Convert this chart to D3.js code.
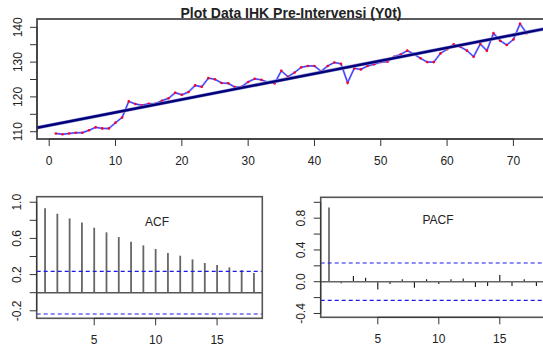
<!DOCTYPE html>
<html><head><meta charset="utf-8">
<script src="https://cdn.jsdelivr.net/npm/d3@7"></script>
<style>
html,body{margin:0;padding:0;background:#fff;overflow:hidden}
svg{display:block}
text{font-family:"Liberation Sans",Arial,sans-serif;fill:#222}
</style></head><body>
<svg id="c" width="543" height="349"></svg>
<script>
// ---- data ----
const titleText = "Plot Data IHK Pre-Intervensi (Y0t)";
const ihk = [109.5,109.25,109.5,109.7,109.7,110.4,111.25,110.95,110.95,112.6,
  114.1,118.7,117.95,117.6,118.05,118.05,118.9,119.6,121.2,120.6,
  121.4,123.3,122.9,125.4,125.05,124.0,123.9,122.8,122.9,124.3,
  125.2,124.9,124.2,123.9,127.5,125.8,127.0,128.5,128.9,128.9,
  127.35,128.9,129.9,129.5,124.1,128.2,127.9,128.9,129.4,130.0,
  130.1,131.55,132.2,133.3,132.3,131.1,130.0,130.0,132.5,133.7,
  135.1,134.4,133.3,131.55,135.2,133.3,138.3,136.15,134.9,136.5,
  141.0,138.3];
const trendIntercept = 111.83;
const trendSlope = 0.3714;
const acfVals = [0.932,0.873,0.821,0.777,0.718,0.667,0.615,0.564,0.523,0.483,
  0.438,0.409,0.368,0.328,0.306,0.280,0.250,0.217];
const pacfVals = [0.936,-0.02,0.071,0.05,-0.097,-0.03,0.03,-0.076,0.03,-0.03,
  0.03,0.042,-0.067,-0.055,0.084,-0.055,0.03,-0.055];
const confLimit = 0.2357;
const topXTicks = [0,10,20,30,40,50,60,70];
const topYTicks = [110,115,120,125,130,135,140];
const topYLabels = [110,120,130,140];
const lagTicks = [5,10,15];
const acfYTicks = [-0.2,0,0.2,0.4,0.6,0.8,1.0];
const acfYLabels = [-0.2,0.2,0.6,1.0];
const pacfYTicks = [-0.4,-0.2,0,0.2,0.4,0.6,0.8,1.0];
const pacfYLabels = [-0.4,0,0.4,0.8];

const svg = d3.select("#c");
const TICK = 7;
const fmt1 = d => d.toFixed(1);

function frame(g, x, y, xt, yt, ylab, xfmt, yfmt) {
  const [x0,x1] = x.range(), [y0,y1] = y.range(); // y0 bottom
  // x ticks
  const bx = g.append("g");
  bx.selectAll("line").data(xt).join("line")
    .attr("x1", d=>x(d)).attr("x2", d=>x(d)).attr("y1", y0).attr("y2", y0+TICK)
    .attr("stroke","#333").attr("stroke-width",1);
  bx.append("line").attr("x1",x(xt[0])).attr("x2",x(xt[xt.length-1])).attr("y1",y0).attr("y2",y0).attr("stroke","#333");
  bx.selectAll("text").data(xt).join("text")
    .attr("x", d=>x(d)).attr("y", y0+25.5).attr("text-anchor","middle")
    .attr("font-size","12px").text(xfmt);
  // y ticks
  const by = g.append("g");
  by.selectAll("line").data(yt).join("line")
    .attr("x1", x0).attr("x2", x0-TICK).attr("y1", d=>y(d)).attr("y2", d=>y(d))
    .attr("stroke","#333").attr("stroke-width",1);
  by.append("line").attr("x1",x0).attr("x2",x0).attr("y1",y(yt[0])).attr("y2",y(yt[yt.length-1])).attr("stroke","#333");
  by.selectAll("text").data(ylab).join("text")
    .attr("transform", d=>`translate(${x0-15.5},${y(d)}) rotate(-90)`)
    .attr("text-anchor","middle").attr("font-size","12px").text(yfmt);
}
function box(g, x, y, col) {
  const [x0,x1] = x.range(), [y0,y1] = y.range();
  g.append("rect").attr("x",x0).attr("y",y1).attr("width",x1-x0).attr("height",y0-y1)
    .attr("fill","none").attr("stroke",col||"#444").attr("stroke-width",1.6);
}

// ---- top panel ----
const xT = d3.scaleLinear().domain([-1.84,74.84]).range([37,545.5]);
const yT = d3.scaleLinear().domain([107.9,142.39]).range([139,19]);
const gT = svg.append("g");
const pts = ihk.map((v,i)=>[i+1,v]);
const line = d3.line().x(d=>xT(d[0])).y(d=>yT(d[1]));
gT.append("path").attr("d", line(pts)).attr("fill","none").attr("stroke","#8c8cff").attr("stroke-width",2);
gT.append("path").attr("d", line(pts)).attr("fill","none").attr("stroke","#2020ff").attr("stroke-width",0.8);
gT.selectAll("circle").data(pts).join("circle")
  .attr("cx", d=>xT(d[0])).attr("cy", d=>yT(d[1])).attr("r",1.3).attr("fill","#ff0022");
const tx = xT.domain();
gT.append("line").attr("x1",xT(tx[0])).attr("x2",xT(tx[1]))
  .attr("y1",yT(trendIntercept+trendSlope*tx[0])).attr("y2",yT(trendIntercept+trendSlope*tx[1]))
  .attr("stroke","#9a9ad8").attr("stroke-width",3.6);
gT.append("line").attr("x1",xT(tx[0])).attr("x2",xT(tx[1]))
  .attr("y1",yT(trendIntercept+trendSlope*tx[0])).attr("y2",yT(trendIntercept+trendSlope*tx[1]))
  .attr("stroke","#00007a").attr("stroke-width",2.4);
box(gT, xT, yT, "#333");
frame(gT, xT, yT, topXTicks, topYTicks, topYLabels, d=>d, d=>d);
svg.append("text").attr("x",291).attr("y",18).attr("text-anchor","middle")
  .attr("font-size","14px").attr("font-weight","bold").attr("fill","#111").text(titleText);

// ---- ACF panel ----
const xA = d3.scaleLinear().domain([0.32,18.68]).range([36.7,262.3]);
const yA = d3.scaleLinear().domain([-0.283,1.061]).range([318.3,196.7]);
const gA = svg.append("g");
gA.selectAll("line.bar").data(acfVals).join("line").attr("class","bar")
  .attr("x1",(d,i)=>xA(i+1)).attr("x2",(d,i)=>xA(i+1)).attr("y1",yA(0)).attr("y2",d=>yA(d))
  .attr("stroke","#666").attr("stroke-width",1.8);
gA.append("line").attr("x1",xA.range()[0]).attr("x2",xA.range()[1]).attr("y1",yA(0)).attr("y2",yA(0))
  .attr("stroke","#555").attr("stroke-width",1.6);
[confLimit,-confLimit].forEach(c=>{
  gA.append("line").attr("x1",xA.range()[0]).attr("x2",xA.range()[1]).attr("y1",yA(c)).attr("y2",yA(c))
    .attr("stroke","#1a1aee").attr("stroke-width",1.2).attr("stroke-dasharray","4,3");
});
box(gA, xA, yA, "#555");
frame(gA, xA, yA, lagTicks, acfYTicks, acfYLabels, d=>d, fmt1);
gA.append("text").attr("x",157).attr("y",226).attr("text-anchor","middle").attr("font-size","12px").attr("fill","#333").text("ACF");

// ---- PACF panel ----
const xP = d3.scaleLinear().domain([0.32,18.68]).range([320.7,544.7]);
const yP = d3.scaleLinear().domain([-0.448,1.063]).range([317.3,197.3]);
const gP = svg.append("g");
gP.selectAll("line.bar").data(pacfVals).join("line").attr("class","bar")
  .attr("x1",(d,i)=>xP(i+1)).attr("x2",(d,i)=>xP(i+1)).attr("y1",yP(0)).attr("y2",d=>yP(d))
  .attr("stroke","#111").attr("stroke-width",1.1);
gP.append("line").attr("x1",xP.range()[0]).attr("x2",xP.range()[1]).attr("y1",yP(0)).attr("y2",yP(0))
  .attr("stroke","#666").attr("stroke-width",1.6);
[confLimit,-confLimit].forEach(c=>{
  gP.append("line").attr("x1",xP.range()[0]).attr("x2",xP.range()[1]).attr("y1",yP(c)).attr("y2",yP(c))
    .attr("stroke","#1a1aee").attr("stroke-width",1.2).attr("stroke-dasharray","4,3");
});
box(gP, xP, yP, "#555");
frame(gP, xP, yP, lagTicks, pacfYTicks, pacfYLabels, d=>d, fmt1);
gP.append("text").attr("x",438).attr("y",224).attr("text-anchor","middle").attr("font-size","12px").attr("fill","#333").text("PACF");
</script>
</body></html>
